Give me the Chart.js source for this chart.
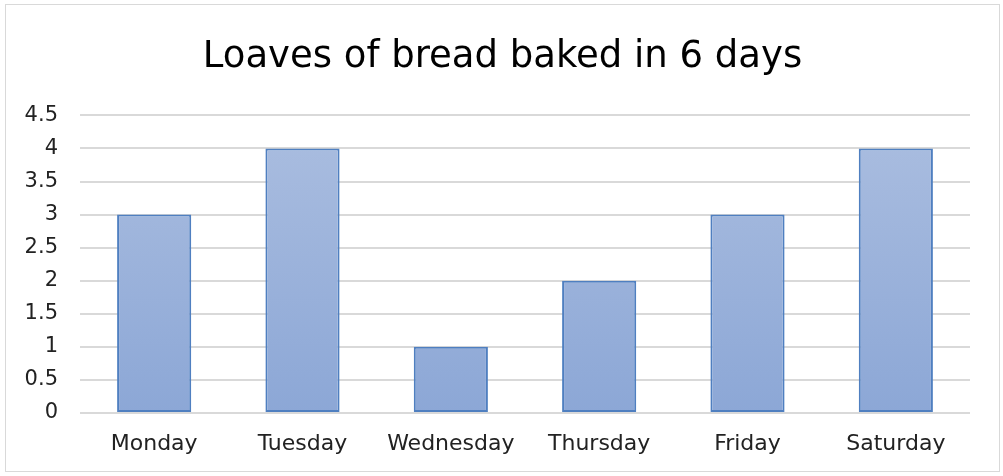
<!DOCTYPE html>
<html>
<head>
<meta charset="utf-8">
<script src="https://cdn.jsdelivr.net/npm/chart.js@4/dist/chart.umd.min.js"></script>
<style>
  body { margin: 0; background: #fff; }
  #wrap {
    position: absolute; left: 5px; top: 4px;
    width: 993px; height: 466px;
    border: 1px solid #d9d9d9;
  }
</style>
</head>
<body>
<div id="wrap"><canvas id="myChart" width="993" height="466"></canvas></div>
<script>
const days = ['Monday', 'Tuesday', 'Wednesday', 'Thursday', 'Friday', 'Saturday'];
const loaves = [3, 4, 1, 2, 3, 4];
const yTicks = [0, 0.5, 1, 1.5, 2, 2.5, 3, 3.5, 4, 4.5];

const fontFamily = '"DejaVu Sans", sans-serif';

// vertical gradient per bar area: lighter at top, deeper at bottom
function barFill(context) {
    const chart = context.chart;
    const area = chart.chartArea;
    if (!area) return '#9bb2da';
    const g = chart.ctx.createLinearGradient(0, area.top, 0, area.bottom);
    g.addColorStop(0, '#abbee0');
    g.addColorStop(1, '#8ca7d6');
    return g;
}

const ctx = document.getElementById('myChart').getContext('2d');
new Chart(ctx, {
    type: 'bar',
    data: {
        labels: days,
        datasets: [{
            label: 'Loaves',
            data: loaves,
            backgroundColor: barFill,
            borderColor: '#4f7fc0',
            borderWidth: 2,
            borderSkipped: false,
            categoryPercentage: 1,
            barPercentage: 0.5
        }]
    },
    options: {
        responsive: false,
        animation: false,
        layout: { padding: 0 },
        plugins: {
            legend: { display: false },
            tooltip: { enabled: false },
            title: {
                display: true,
                text: 'Loaves of bread baked in 6 days',
                color: '#000',
                font: { family: fontFamily, size: 37, weight: 'normal' },
                padding: { top: 30, bottom: 36 }
            }
        },
        scales: {
            x: {
                grid: { display: false },
                border: { display: false },
                ticks: {
                    color: '#222',
                    font: { family: fontFamily, size: 22 },
                    padding: 10
                },
                afterFit: (scale) => { scale.height = 58; }
            },
            y: {
                min: 0,
                max: 4.5,
                afterBuildTicks: (scale) => {
                    scale.ticks = yTicks.map(v => ({ value: v }));
                },
                grid: { color: '#d9d9d9', lineWidth: 2, drawTicks: false },
                border: { display: false },
                ticks: {
                    color: '#222',
                    font: { family: fontFamily, size: 21 },
                    padding: 22,
                    callback: (v) => String(v)
                },
                afterFit: (scale) => { scale.width = 74; }
            },
            // empty right-hand axis, only reserves the right margin
            yRight: {
                position: 'right',
                min: 0,
                max: 4.5,
                grid: { display: false },
                border: { display: false },
                ticks: { display: false },
                afterFit: (scale) => { scale.width = 29; }
            }
        }
    }
});
</script>
</body>
</html>
